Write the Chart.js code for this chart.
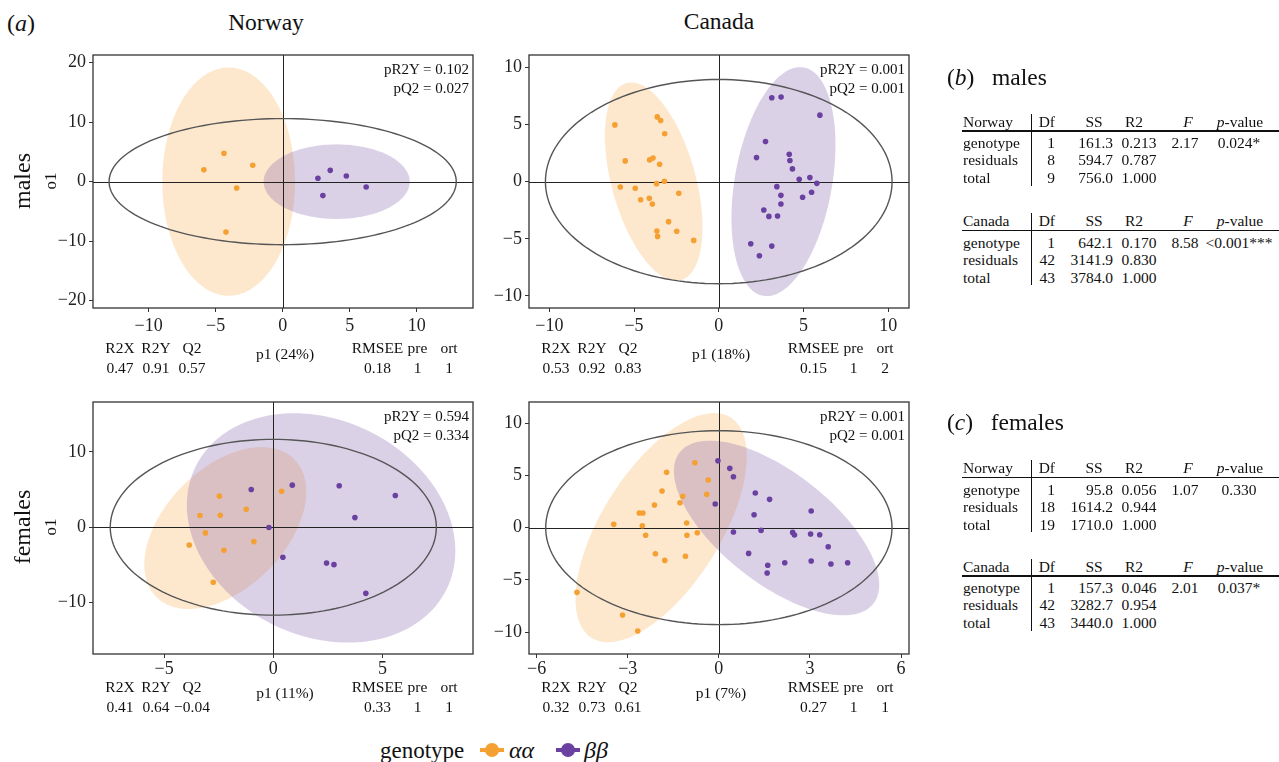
<!DOCTYPE html>
<html>
<head>
<meta charset="utf-8">
<script src="https://cdn.jsdelivr.net/npm/chart.js@4/dist/chart.umd.min.js"></script>
<style>
body { margin: 0; background: #fff; }
#page { position: relative; width: 1279px; height: 762px; overflow: hidden; font-family: "Liberation Serif", "Times New Roman", serif; color: #111; }
.t { position: absolute; white-space: nowrap; line-height: 1; }
canvas.plot { position: absolute; }
.rule { position: absolute; background: #111; }
</style>
</head>
<body>
<div id="page"></div>
<script>
// ---- data ----
// scores [p1, o1]
const norwayMalesAA = [[-4.38,4.76],[-5.88,2.0],[-2.23,2.75],[-3.43,-1.06],[-4.23,-8.46]];
const norwayMalesBB = [[2.63,0.56],[3.55,1.9],[4.75,0.95],[3.0,-2.35],[6.23,-0.9]];

const canadaMalesAA = [[-6.13,4.96],[-3.63,5.66],[-3.43,5.34],[-3.19,4.18],[-5.52,1.81],[-4.08,1.90],[-3.88,2.07],
  [-3.49,1.52],[-5.81,-0.47],[-4.93,-0.58],[-3.67,-0.18],[-3.21,0.03],[-2.36,-1.02],[-4.61,-1.58],[-4.10,-1.46],
  [-3.92,-1.96],[-2.96,-3.50],[-3.65,-4.32],[-3.61,-4.79],[-2.48,-4.35],[-1.48,-5.14]];
const canadaMalesBB = [[3.13,7.33],[3.68,7.39],[5.97,5.81],[2.76,3.50],[2.23,2.10],[4.16,2.39],[4.20,1.84],[4.35,1.11],
  [4.75,0.20],[5.38,0.35],[5.79,-0.15],[3.43,-0.44],[3.67,-1.20],[4.95,-1.37],[5.48,-0.93],[3.67,-1.96],[2.66,-2.48],
  [2.96,-3.04],[3.47,-3.01],[1.89,-5.43],[3.13,-5.64],[2.40,-6.48]];

const norwayFemalesAA = [[-2.47,4.12],[-3.36,1.55],[-2.43,1.59],[-1.24,2.39],[0.38,4.78],[-3.11,-0.75],[-3.85,-2.35],
  [-2.26,-3.05],[-0.89,-1.90],[-2.75,-7.30]];
const norwayFemalesBB = [[-1.01,5.0],[0.87,5.58],[-0.20,-0.04],[0.44,-3.98],[3.02,5.49],[5.59,4.20],[3.74,1.28],
  [2.44,-4.73],[2.78,-4.96],[4.24,-8.76]];

const canadaFemalesAA = [[-0.79,6.22],[-1.72,5.30],[-0.35,4.56],[-1.87,3.51],[-1.19,3.00],[-0.40,3.19],[-2.12,2.17],
  [-1.28,2.39],[-2.62,1.40],[-2.50,1.40],[-3.46,0.32],[-2.52,0.19],[-1.06,0.45],[-2.41,-0.73],[-1.05,-0.73],[-0.71,-0.48],
  [-2.09,-2.49],[-1.10,-2.74],[-1.78,-3.13],[-4.67,-6.19],[-3.17,-8.36],[-2.67,-9.89]];
const canadaFemalesBB = [[-0.03,6.41],[0.36,5.68],[0.48,4.88],[-0.12,2.26],[1.20,3.32],[1.67,2.71],[1.16,1.24],[3.04,1.59],
  [0.48,-0.41],[1.39,-0.26],[2.43,-0.45],[2.49,-0.70],[3.02,-0.61],[3.32,-0.67],[3.60,-1.82],[0.98,-2.46],[1.61,-3.60],
  [1.59,-4.34],[2.17,-3.35],[3.04,-3.19],[3.69,-3.48],[4.24,-3.35]];

// ellipses: [centre p1, centre o1, half width, half height, correlation]
const norwayMalesEll = { aa: [-4.03,0,4.95,19.2,0], bb: [4.03,0,5.45,6.27,0], t2: [0,0,12.95,10.6,0] };
const canadaMalesEll = { aa: [-3.84,0,2.88,8.67,-0.46], bb: [3.82,0,3.07,10.01,0.32], t2: [0,0,10.23,8.93,0] };
const norwayFemalesEll = { aa: [-2.2,-0.11,3.71,10.73,0.45], bb: [2.19,-0.09,6.15,15.2,-0.2], t2: [0,0,7.47,11.65,0] };
const canadaFemalesEll = { aa: [-1.9,0,2.82,10.97,0.62], bb: [1.9,-0.03,3.38,8.36,-0.65], t2: [0,0,5.7,9.28,0] };

// axis limits and tick labels
const norwayMalesX = [-14.15, 14.2], norwayMalesY = [-21.25, 21.3];
const canadaMalesX = [-11.2, 11.23], canadaMalesY = [-11.05, 11.07];
const norwayFemalesX = [-8.26, 9.15], norwayFemalesY = [-16.8, 16.6];
const canadaFemalesX = [-6.25, 6.26], canadaFemalesY = [-12.09, 12.03];
const norwayMalesXTicks = [-10,-5,0,5,10], norwayMalesYTicks = [-20,-10,0,10,20];
const canadaMalesXTicks = [-10,-5,0,5,10], canadaMalesYTicks = [-10,-5,0,5,10];
const norwayFemalesXTicks = [-5,0,5], norwayFemalesYTicks = [-10,0,10];
const canadaFemalesXTicks = [-6,-3,0,3,6], canadaFemalesYTicks = [-10,-5,0,5,10];

// model summaries
const norwayMalesStats = { p1: 'p1 (24%)', r2x: '0.47', r2y: '0.91', q2: '0.57', rmsee: '0.18', pre: '1', ort: '1', pr2y: '0.102', pq2: '0.027' };
const canadaMalesStats = { p1: 'p1 (18%)', r2x: '0.53', r2y: '0.92', q2: '0.83', rmsee: '0.15', pre: '1', ort: '2', pr2y: '0.001', pq2: '0.001' };
const norwayFemalesStats = { p1: 'p1 (11%)', r2x: '0.41', r2y: '0.64', q2: '\u22120.04', rmsee: '0.33', pre: '1', ort: '1', pr2y: '0.594', pq2: '0.334' };
const canadaFemalesStats = { p1: 'p1 (7%)', r2x: '0.32', r2y: '0.73', q2: '0.61', rmsee: '0.27', pre: '1', ort: '1', pr2y: '0.001', pq2: '0.001' };

// permanova tables: [term, Df, SS, R2, F, p]
const malesNorwayTable = [['genotype','1','161.3','0.213','2.17','0.024*'],['residuals','8','594.7','0.787','',''],['total','9','756.0','1.000','','']];
const malesCanadaTable = [['genotype','1','642.1','0.170','8.58','<0.001***'],['residuals','42','3141.9','0.830','',''],['total','43','3784.0','1.000','','']];
const femalesNorwayTable = [['genotype','1','95.8','0.056','1.07','0.330'],['residuals','18','1614.2','0.944','',''],['total','19','1710.0','1.000','','']];
const femalesCanadaTable = [['genotype','1','157.3','0.046','2.01','0.037*'],['residuals','42','3282.7','0.954','',''],['total','43','3440.0','1.000','','']];

const ORANGE = '#F5A033', PURPLE = '#6A40A0';
const page = document.getElementById('page');

function txt(x, y, s, o) {
    o = o || {};
    var d = document.createElement('div');
    d.className = 't';
    d.innerHTML = s;
    d.style.left = x + 'px';
    d.style.top = y + 'px';
    d.style.fontSize = (o.size || 15.5) + 'px';
    if (o.italic) d.style.fontStyle = 'italic';
    var ax = o.align == 'r' ? '-100%' : o.align == 'c' ? '-50%' : '0';
    d.style.transform = 'translate(' + ax + ',-50%)';
    page.appendChild(d);
    return d;
}

function rotTxt(cx, cy, s, size) {
    var d = document.createElement('div');
    d.className = 't';
    d.innerHTML = s;
    d.style.fontSize = size + 'px';
    d.style.left = cx + 'px';
    d.style.top = cy + 'px';
    d.style.transform = 'translate(-50%,-50%) rotate(-90deg)';
    page.appendChild(d);
}

function ellPath(ctx, x, y, e) {
    var cx = e[0], cy = e[1], hw = e[2], hh = e[3], r = e[4];
    var s = Math.sqrt(1 - r * r);
    ctx.beginPath();
    for (var i = 0; i <= 160; i++) {
        var t = i / 160 * 2 * Math.PI;
        var px = x.getPixelForValue(cx + hw * Math.cos(t));
        var py = y.getPixelForValue(cy + hh * (r * Math.cos(t) + s * Math.sin(t)));
        if (i) ctx.lineTo(px, py); else ctx.moveTo(px, py);
    }
    ctx.closePath();
}

const scorePlot = {
    id: 'scorePlot',
    beforeDatasetsDraw(chart, args, o) {
        const ctx = chart.ctx, a = chart.chartArea, x = chart.scales.x, y = chart.scales.y;
        ctx.save();
        ctx.beginPath(); ctx.rect(a.left, a.top, a.width, a.height); ctx.clip();
        ellPath(ctx, x, y, o.aa); ctx.fillStyle = 'rgba(247,160,50,0.24)'; ctx.fill();
        ellPath(ctx, x, y, o.bb); ctx.fillStyle = 'rgba(110,70,160,0.25)'; ctx.fill();
        var x0 = Math.round(x.getPixelForValue(0)) + 0.5, y0 = Math.round(y.getPixelForValue(0)) + 0.5;
        ctx.strokeStyle = '#222'; ctx.lineWidth = 1;
        ctx.beginPath();
        ctx.moveTo(x0, a.top); ctx.lineTo(x0, a.bottom);
        ctx.moveTo(a.left, y0); ctx.lineTo(a.right, y0);
        ctx.stroke();
        ellPath(ctx, x, y, o.t2); ctx.strokeStyle = '#555'; ctx.lineWidth = 1.4; ctx.stroke();
        ctx.restore();
    },
    afterDraw(chart) {
        const ctx = chart.ctx, a = chart.chartArea;
        ctx.save();
        ctx.strokeStyle = '#333'; ctx.lineWidth = 1.3;
        ctx.strokeRect(a.left, a.top, a.width, a.height);
        ctx.restore();
    }
};

const minus = v => String(v).replace('-', '\u2212');

function panel(box, xr, yr, xt, yt, aa, bb, ell, tickPad) {
    const padL = 62, padR = 14, padT = 10, padB = 34;
    const w = box[2] - box[0] + padL + padR, h = box[3] - box[1] + padT + padB;
    const c = document.createElement('canvas');
    c.className = 'plot';
    c.width = w; c.height = h;
    c.style.left = (box[0] - padL) + 'px';
    c.style.top = (box[1] - padT) + 'px';
    page.appendChild(c);
    const tickFont = { family: '"Liberation Serif", serif', size: 18 };
    new Chart(c.getContext('2d'), {
        type: 'scatter',
        data: {
            datasets: [
                { data: aa.map(p => ({ x: p[0], y: p[1] })), backgroundColor: ORANGE, borderWidth: 0, pointRadius: 2.8 },
                { data: bb.map(p => ({ x: p[0], y: p[1] })), backgroundColor: PURPLE, borderWidth: 0, pointRadius: 2.8 }
            ]
        },
        options: {
            responsive: false,
            animation: false,
            layout: { padding: { left: 0, right: padR, top: padT, bottom: 0 } },
            plugins: { legend: { display: false }, tooltip: { enabled: false }, scorePlot: ell },
            scales: {
                x: {
                    type: 'linear', min: xr[0], max: xr[1],
                    afterBuildTicks: s => { s.ticks = xt.map(v => ({ value: v })); },
                    afterFit: s => { s.height = padB; s.paddingLeft = 0; s.paddingRight = 0; },
                    grid: { drawOnChartArea: false, tickLength: 4, tickColor: '#333' },
                    border: { display: false },
                    ticks: { autoSkip: false, maxRotation: 0, padding: tickPad, color: '#222', font: tickFont, callback: minus }
                },
                y: {
                    type: 'linear', min: yr[0], max: yr[1],
                    afterBuildTicks: s => { s.ticks = yt.map(v => ({ value: v })); },
                    afterFit: s => { s.width = padL; s.paddingTop = 0; s.paddingBottom = 0; },
                    grid: { drawOnChartArea: false, tickLength: 4, tickColor: '#333' },
                    border: { display: false },
                    ticks: { autoSkip: false, padding: 3, color: '#222', font: tickFont, callback: minus }
                }
            }
        },
        plugins: [scorePlot]
    });
}

function statsText(box, st, yHead, yVal, yP1, yP) {
    const L = box[0];
    txt(L + 27, yHead, 'R2X', { align: 'c' });
    txt(L + 63, yHead, 'R2Y', { align: 'c' });
    txt(L + 99, yHead, 'Q2', { align: 'c' });
    txt(L + 27, yVal, st.r2x, { align: 'c' });
    txt(L + 63, yVal, st.r2y, { align: 'c' });
    txt(L + 99, yVal, st.q2, { align: 'c' });
    txt((box[0] + box[2]) / 2 + 2, yP1, st.p1, { align: 'c' });
    txt(L + 284.5, yHead, 'RMSEE', { align: 'c' });
    txt(L + 324.5, yHead, 'pre', { align: 'c' });
    txt(L + 356, yHead, 'ort', { align: 'c' });
    txt(L + 284.5, yVal, st.rmsee, { align: 'c' });
    txt(L + 324.5, yVal, st.pre, { align: 'c' });
    txt(L + 356, yVal, st.ort, { align: 'c' });
    txt(box[2] - 4, yP, 'pR2Y = ' + st.pr2y, { align: 'r', size: 15 });
    txt(box[2] - 4, yP + 19, 'pQ2 = ' + st.pq2, { align: 'r', size: 15 });
}

const box1 = [93, 55, 473, 308], box2 = [529, 55, 909, 308];
const box3 = [93, 402, 473, 654], box4 = [529, 402, 909, 654];

panel(box1, norwayMalesX, norwayMalesY, norwayMalesXTicks, norwayMalesYTicks, norwayMalesAA, norwayMalesBB, norwayMalesEll, 3);
panel(box2, canadaMalesX, canadaMalesY, canadaMalesXTicks, canadaMalesYTicks, canadaMalesAA, canadaMalesBB, canadaMalesEll, 3);
panel(box3, norwayFemalesX, norwayFemalesY, norwayFemalesXTicks, norwayFemalesYTicks, norwayFemalesAA, norwayFemalesBB, norwayFemalesEll, 0);
panel(box4, canadaFemalesX, canadaFemalesY, canadaFemalesXTicks, canadaFemalesYTicks, canadaFemalesAA, canadaFemalesBB, canadaFemalesEll, 0);

statsText(box1, norwayMalesStats, 348, 368, 354, 69);
statsText(box2, canadaMalesStats, 348, 368, 354, 69);
statsText(box3, norwayFemalesStats, 687, 707, 693, 416);
statsText(box4, canadaFemalesStats, 687, 707, 693, 416);

// titles and row labels
txt(7, 23, '(<i>a</i>)', { size: 24 });
txt(266, 23, 'Norway', { align: 'c', size: 23.5 });
txt(719, 22, 'Canada', { align: 'c', size: 23.5 });
rotTxt(22, 181, 'males', 24);
rotTxt(50, 181, 'o1', 17);
rotTxt(22, 527, 'females', 24);
rotTxt(50, 527, 'o1', 17);

// permanova tables
function table(yHead, place, rows) {
    const fs = 15.5;
    txt(963, yHead, place, { size: fs });
    txt(1055, yHead, 'Df', { align: 'r', size: fs });
    txt(1094, yHead, 'SS', { align: 'c', size: fs });
    txt(1134, yHead, 'R2', { align: 'c', size: fs });
    txt(1188, yHead, 'F', { align: 'c', size: fs, italic: true });
    txt(1240, yHead, '<i>p</i>-value', { align: 'c', size: fs });
    var rl = document.createElement('div');
    rl.className = 'rule';
    rl.style.left = '962px'; rl.style.width = '317px';
    rl.style.top = (yHead + 8.5) + 'px'; rl.style.height = '1.5px';
    page.appendChild(rl);
    var vl = document.createElement('div');
    vl.className = 'rule';
    vl.style.left = '1031px'; vl.style.width = '1px';
    vl.style.top = (yHead - 8) + 'px'; vl.style.height = '72px';
    page.appendChild(vl);
    const dy = [21.5, 38.5, 56.5];
    rows.forEach(function (r, i) {
        const y = yHead + dy[i];
        txt(963, y, r[0], { size: fs });
        txt(1055, y, r[1], { align: 'r', size: fs });
        txt(1113, y, r[2], { align: 'r', size: fs });
        txt(1139, y, r[3], { align: 'c', size: fs });
        if (r[4]) txt(1185, y, r[4], { align: 'c', size: fs });
        if (r[5]) txt(1239, y, r[5], { align: 'c', size: fs });
    });
}

txt(947, 78, '(<i>b</i>)&nbsp;&nbsp; males', { size: 23.5 });
table(121.7, 'Norway', malesNorwayTable);
table(221, 'Canada', malesCanadaTable);
txt(947, 423, '(<i>c</i>)&nbsp;&nbsp; females', { size: 23.5 });
table(468.3, 'Norway', femalesNorwayTable);
table(566.7, 'Canada', femalesCanadaTable);

// legend
function legendKey(cx, cy, col) {
    var l = document.createElement('div');
    l.style.cssText = 'position:absolute;left:' + (cx - 12) + 'px;top:' + (cy - 2) + 'px;width:24px;height:4px;background:' + col;
    page.appendChild(l);
    var d = document.createElement('div');
    d.style.cssText = 'position:absolute;left:' + (cx - 7) + 'px;top:' + (cy - 7) + 'px;width:14px;height:14px;border-radius:50%;background:' + col;
    page.appendChild(d);
}
txt(380, 750, 'genotype', { size: 23 });
legendKey(491.5, 750, ORANGE);
txt(509, 750, 'αα', { size: 24, italic: true });
legendKey(567.5, 750, PURPLE);
txt(584, 750, 'ββ', { size: 24, italic: true });
</script>
</body>
</html>
